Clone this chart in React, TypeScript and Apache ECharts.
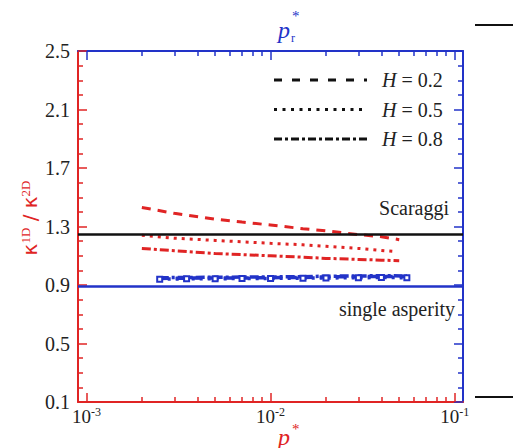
import React, { useEffect, useRef } from "react";
import * as echarts from "echarts";

const RED = "#e02424";
const BLUE = "#2233c8";
const SERIF = "Liberation Serif";

// x ticks (p*)
const xMajor = [0.001, 0.01, 0.1];
const xMinor = [0.002, 0.003, 0.004, 0.005, 0.006, 0.007, 0.008, 0.009, 0.02, 0.03, 0.04, 0.05, 0.06, 0.07, 0.08, 0.09];
// y ticks
const yMajor = [0.1, 0.5, 0.9, 1.3, 1.7, 2.1, 2.5];
const yMinor = [0.2, 0.3, 0.4, 0.6, 0.7, 0.8, 1.0, 1.1, 1.2, 1.4, 1.5, 1.6, 1.8, 1.9, 2.0, 2.2, 2.3, 2.4];

const hValues = [0.2, 0.5, 0.8];

// red curves (vs p*)
const pRed02 = [0.002, 0.003, 0.005, 0.007, 0.01, 0.015, 0.02, 0.03, 0.04, 0.05];
const kRed02 = [1.43, 1.39, 1.35, 1.33, 1.31, 1.285, 1.27, 1.245, 1.23, 1.21];
const pRed05 = [0.002, 0.003, 0.005, 0.007, 0.01, 0.015, 0.02, 0.03, 0.046];
const kRed05 = [1.24, 1.22, 1.205, 1.195, 1.185, 1.175, 1.165, 1.15, 1.13];
const pRed08 = [0.002, 0.003, 0.005, 0.007, 0.01, 0.015, 0.02, 0.03, 0.04, 0.05];
const kRed08 = [1.15, 1.135, 1.115, 1.108, 1.1, 1.09, 1.082, 1.075, 1.07, 1.066];

// blue curves (vs p_r*)
const pBlue = [0.0025, 0.0035, 0.005, 0.007, 0.01, 0.015, 0.02, 0.03, 0.04, 0.055];
const kBlue02 = [0.945, 0.947, 0.948, 0.948, 0.95, 0.952, 0.955, 0.957, 0.958, 0.958];
const kBlue05 = [0.94, 0.942, 0.943, 0.944, 0.945, 0.947, 0.948, 0.95, 0.951, 0.95];
const kBlue08 = [0.95, 0.951, 0.953, 0.954, 0.955, 0.957, 0.96, 0.962, 0.963, 0.962];

const scaraggi = 1.25;
const singleAsperity = 0.889;

const dashes = [[9, 7], [3, 5], [9, 3, 3, 3]];
const legendDashes = [[8, 10], [3, 5.5], [8, 3, 3, 3]];

const zip = (a: number[], b: number[]) => a.map((v, i) => [v, b[i]]);

export default function App() {
  const ref = useRef<HTMLDivElement>(null);
  useEffect(() => {
    if (!ref.current) return;
    const chart = echarts.init(ref.current, null, { renderer: "svg" });
    const xMin = 0.0009;
    const xMax = 0.111;
    const xBase = (pos: "bottom" | "top", color: string, major: boolean, extra: any = {}) => ({
      type: "log",
      position: pos,
      min: xMin,
      max: xMax,
      axisLine: { show: major, lineStyle: { color, width: 2 } },
      axisTick: {
        show: true,
        inside: true,
        length: major ? 9 : 5,
        lineStyle: { color, width: 1.5 },
        customValues: major ? xMajor : xMinor,
      },
      axisLabel: { show: false },
      splitLine: { show: false },
      ...extra,
    });
    const yBase = (pos: "left" | "right", color: string, major: boolean, extra: any = {}) => ({
      type: "value",
      position: pos,
      min: 0.1,
      max: 2.5,
      axisLine: { show: major, lineStyle: { color, width: 2 } },
      axisTick: {
        show: true,
        inside: true,
        length: major ? 9 : 5,
        lineStyle: { color, width: 1.5 },
        customValues: major ? yMajor : yMinor,
      },
      axisLabel: { show: false },
      splitLine: { show: false },
      ...extra,
    });

    const redData = [zip(pRed02, kRed02), zip(pRed05, kRed05), zip(pRed08, kRed08)];
    const blueData = [zip(pBlue, kBlue02), zip(pBlue, kBlue05), zip(pBlue, kBlue08)];

    const series: any[] = [];
    redData.forEach((d, i) => {
      series.push({
        type: "line",
        data: d,
        xAxisIndex: 0,
        yAxisIndex: 0,
        showSymbol: false,
        symbol: "none",
        lineStyle: { color: RED, width: 3, type: dashes[i] },
        z: 3,
      });
    });
    blueData.forEach((d, i) => {
      series.push({
        type: "line",
        data: d,
        xAxisIndex: 2,
        yAxisIndex: 0,
        symbol: i === 1 ? "emptyRect" : "none",
        symbolSize: 5,
        itemStyle: { color: BLUE, borderWidth: 1.5 },
        lineStyle: { color: BLUE, width: 3.5, type: dashes[i] },
        z: 3,
      });
    });
    series.push({
      type: "line",
      data: [],
      xAxisIndex: 0,
      yAxisIndex: 0,
      symbol: "none",
      markLine: {
        silent: true,
        symbol: "none",
        animation: false,
        data: [
          {
            yAxis: scaraggi,
            lineStyle: { color: "#111", width: 2.5, type: "solid" },
            label: {
              formatter: "Scaraggi",
              position: "insideEndTop",
              distance: [14, 16],
              color: "#222",
              fontFamily: SERIF,
              fontSize: 20,
            },
          },
          {
            yAxis: singleAsperity,
            lineStyle: { color: BLUE, width: 2.5, type: "solid" },
            label: {
              formatter: "single asperity",
              position: "insideEndBottom",
              distance: [8, 13],
              color: "#222",
              fontFamily: SERIF,
              fontSize: 20,
            },
          },
        ],
      },
    });

    const legendGraphics: any[] = [];
    hValues.forEach((h, i) => {
      const y = 80 + i * 29.5;
      legendGraphics.push({
        type: "line",
        shape: { x1: 274, y1: y, x2: 367, y2: y },
        style: { stroke: "#111", lineWidth: 3, lineDash: legendDashes[i] },
      });
      legendGraphics.push({
        type: "text",
        x: 382,
        y,
        style: {
          text: `{i|H}{n| = ${h.toFixed(1)}}`,
          verticalAlign: "middle",
          rich: {
            i: { fontFamily: SERIF, fontStyle: "italic", fontSize: 20, fill: "#222" },
            n: { fontFamily: SERIF, fontSize: 20, fill: "#222" },
          },
        },
      });
    });

    chart.setOption({
      animation: false,
      grid: { left: 78, right: 50, top: 51, bottom: 46, containLabel: false, outerBoundsMode: "none" },
      xAxis: [
        xBase("bottom", RED, true, {
          axisLabel: {
            show: true,
            customValues: xMajor,
            margin: 4,
            formatter: (v: number) => `{b|10}{e|${Math.round(Math.log10(v))}}`,
            rich: {
              b: { fontFamily: SERIF, fontSize: 19, color: "#222" },
              e: { fontFamily: SERIF, fontSize: 12, color: "#222", verticalAlign: "top", padding: [0, 0, 8, 0] },
            },
          },
        }),
        xBase("bottom", RED, false),
        xBase("top", BLUE, true),
        xBase("top", BLUE, false),
      ],
      yAxis: [
        yBase("left", RED, true, {
          axisLabel: {
            show: true,
            customValues: yMajor,
            margin: 8,
            formatter: (v: number) => v.toFixed(1),
            fontFamily: SERIF,
            fontSize: 20,
            color: "#222",
          },
        }),
        yBase("left", RED, false),
        yBase("right", BLUE, true),
        yBase("right", BLUE, false),
      ],
      series,
      graphic: [
        ...legendGraphics,
        // y-axis title
        {
          type: "text",
          x: 30,
          y: 218,
          rotation: Math.PI / 2,
          style: {
            text: "{k|κ}{s|1D}{k| / κ}{s|2D}",
            align: "center",
            verticalAlign: "middle",
            rich: {
              k: { fontFamily: "DejaVu Sans", fontSize: 20, fill: RED },
              s: { fontFamily: SERIF, fontSize: 13, fill: RED, verticalAlign: "top", padding: [0, 0, 10, 0] },
            },
          },
        },
        // bottom title p*
        {
          type: "text",
          x: 278,
          y: 425,
          style: { text: "p", fontFamily: SERIF, fontStyle: "italic", fontSize: 24, fill: RED },
        },
        {
          type: "text",
          x: 292,
          y: 421,
          style: { text: "*", fontFamily: SERIF, fontSize: 15, fill: RED },
        },
        // top title p_r*
        {
          type: "text",
          x: 278,
          y: 18,
          style: { text: "p", fontFamily: SERIF, fontStyle: "italic", fontSize: 24, fill: BLUE },
        },
        {
          type: "text",
          x: 291,
          y: 32,
          style: { text: "r", fontFamily: SERIF, fontSize: 12, fill: BLUE },
        },
        {
          type: "text",
          x: 292,
          y: 8,
          style: { text: "*", fontFamily: SERIF, fontSize: 15, fill: BLUE },
        },
        { type: "line", shape: { x1: 475, y1: 25, x2: 513, y2: 25 }, style: { stroke: "#111", lineWidth: 2 } },
        { type: "line", shape: { x1: 475, y1: 397, x2: 513, y2: 397 }, style: { stroke: "#111", lineWidth: 2 } },
      ],
    });
    return () => chart.dispose();
  }, []);
  return <div ref={ref} style={{ position: "absolute", left: 0, top: 0, width: 513, height: 448 }} />;
}
